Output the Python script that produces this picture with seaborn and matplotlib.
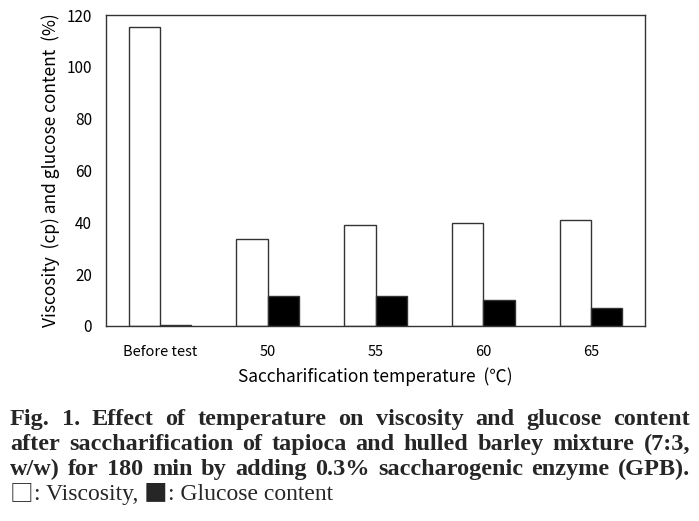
import matplotlib
matplotlib.use("Agg")
import matplotlib.pyplot as plt
import pandas as pd
import seaborn as sns

# Data
categories = ["Before test", "50", "55", "60", "65"]
viscosity = [115.3, 33.5, 38.9, 39.6, 40.8]
glucose = [0.3, 11.7, 11.5, 10.0, 6.9]

caption_lines = [
    "Fig. 1. Effect of temperature on viscosity and glucose content",
    "after saccharification of tapioca and hulled barley mixture (7:3,",
    "w/w) for 180 min by adding 0.3% saccharogenic enzyme (GPB).",
]
legend_parts = ["\u25a1", ": Viscosity, ", "\u25a0", ": Glucose content"]

df = pd.DataFrame({
    "category": categories * 2,
    "value": viscosity + glucose,
    "series": ["Viscosity"] * len(categories) + ["Glucose content"] * len(categories),
})

sns.set_theme(style="white")
plt.rcParams["font.family"] = ["Noto Sans CJK KR", "DejaVu Sans"]

fig = plt.figure(figsize=(6.99, 5.21), dpi=100)
ax = fig.add_axes([106 / 699, 1 - 326 / 521, 539 / 699, 311 / 521])

sns.barplot(
    data=df, x="category", y="value", hue="series", order=categories,
    palette={"Viscosity": "white", "Glucose content": "black"},
    width=0.58, edgecolor="#333333", linewidth=1.0, legend=False, ax=ax,
)

ax.set_xlim(-0.5, len(categories) - 0.5)
ax.set_ylim(0, 120)
ax.set_yticks(range(0, 121, 20))
ax.tick_params(axis="y", direction="in", length=4, width=0.8, labelsize=11, pad=10,
               color="#333333", labelcolor="black")
ax.tick_params(axis="x", length=0, labelsize=10.5, pad=14, labelcolor="black")
for sp in ax.spines.values():
    sp.set_color("#333333")
    sp.set_linewidth(1.0)
ax.set_xlabel("Saccharification temperature  (\u2103)", fontsize=12.5, labelpad=6,
              color="black")
ax.set_ylabel("Viscosity  (cp) and glucose content  (%)", fontsize=12.5, labelpad=5,
              color="black")

# Caption, justified word by word between x0 and x1
serif = ["Liberation Serif", "DejaVu Serif"]
x0, x1 = 10 / 699, 690 / 699
fig.canvas.draw()
renderer = fig.canvas.get_renderer()
inv = fig.transFigure.inverted()


def fig_width(t):
    bb = t.get_window_extent(renderer)
    return inv.transform((bb.width, 0))[0] - inv.transform((0, 0))[0]


line_y = [1 - 425 / 521, 1 - 450 / 521, 1 - 475 / 521]
for line, y in zip(caption_lines, line_y):
    words = line.split(" ")
    texts = [fig.text(0, y, w, fontsize=17.5, fontweight="bold", family=serif,
                      va="baseline", ha="left") for w in words]
    widths = [fig_width(t) for t in texts]
    gap = (x1 - x0 - sum(widths)) / (len(words) - 1)
    x = x0
    for t, w in zip(texts, widths):
        t.set_x(x)
        x += w + gap

# legend line: big squares from a CJK font, text in serif
x = x0
for part in legend_parts:
    fam = ["Noto Sans CJK JP"] if part in ("\u25a1", "\u25a0") else serif
    t = fig.text(x, 1 - 500 / 521, part, fontsize=17, family=fam,
                 va="baseline", ha="left")
    x += fig_width(t)

fig.savefig("out.png", dpi=100)
